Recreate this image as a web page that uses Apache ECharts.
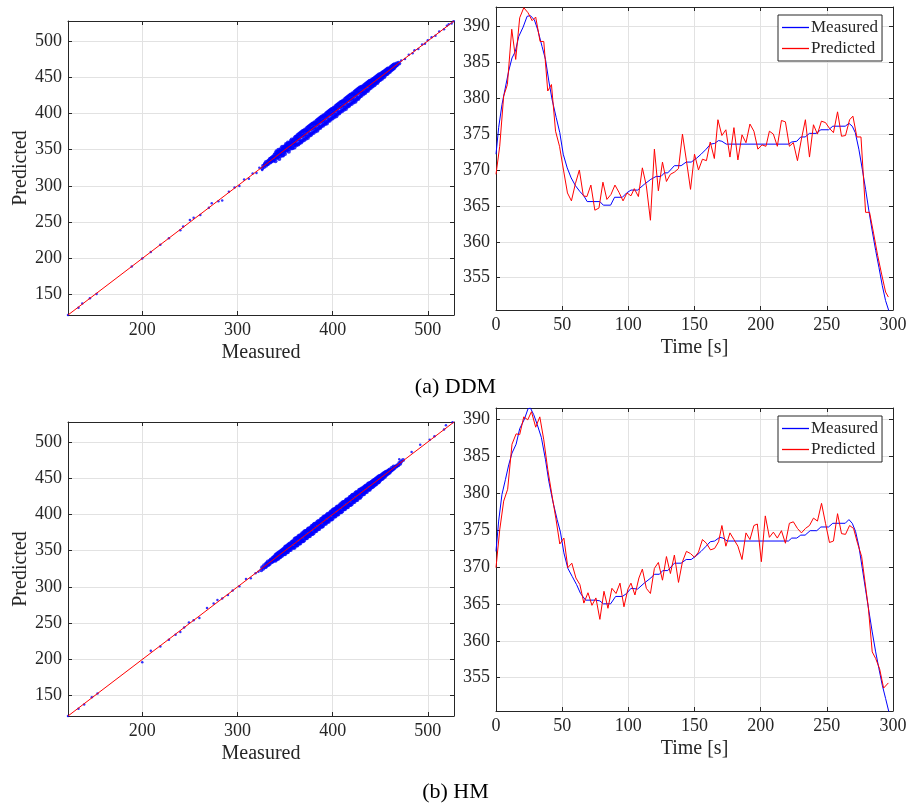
<!DOCTYPE html>
<html><head><meta charset="utf-8">
<script src="https://cdn.jsdelivr.net/npm/echarts@6/dist/echarts.min.js"></script>
<style>html,body{margin:0;padding:0;background:#fff}#c{width:911px;height:810px}</style>
</head><body><div id="c"></div>
<script>
// ---------- ranges & tick labels ----------
const scatterRange = [122, 527.5];
const scatterTicksX = [200, 300, 400, 500];
const scatterTicksY = [150, 200, 250, 300, 350, 400, 450, 500];
const timeRangeX = [0, 300];
const timeTicksX = [0, 50, 100, 150, 200, 250, 300];
const timeTicksY = [355, 360, 365, 370, 375, 380, 385, 390];
const ddmTimeRangeY = [350.5, 392.7];
const hmTimeRangeY = [350.5, 391.5];
const captions = ['(a) DDM', '(b) HM'];
const seriesNames = ['Measured', 'Predicted'];

// ---------- scatter: [measured, predicted] ----------
const ddmSparse = [
[122,122],[133,132],[137,138],[145,145],[152,151],[189,189],[200,200],[209,209],[219,219],[228,228],[240,239],[243,244],[250,253],[254,256],[261,260],[270,270],[273,276],[280,279],[284,280],[291,292],[297,298],[302,300],[307,309],[312,310],[316,317],[320,318],[323,325],[326,322],[328,330],
[472,473],[476,475],[480,481],[484,483],[486,487],[490,489],[494,495],[497,496],[500,501],[504,505],[508,507],[512,513],[517,516],[520,521],[522,523],[525,524],[527,527]
];
const ddmBand = [
[326,324],[327,328],[328,326],[329,331],[330,328],[330,333],[331,330],[332,334],[332,330],[333,335],[334,332],[334,337],[335,333],[335,338],[336,334],[336,339],[337,335],[337,340],[338,335],[338,341],[339,337],[339,343],
[340,334],[340,345],[340,340],[341,339],[341,348],[341,344],[342,339],[342,347],[342,343],[343,341],[343,350],[343,346],[344,337],[344,345],[344,349],[345,341],[345,349],[345,344],[346,345],[346,352],[346,349],[347,342],[347,349],[347,354],[348,342],[348,348],[348,352],[349,346],[349,354],[349,350],
[350,344],[350,355],[350,350],[351,349],[351,358],[351,354],[352,349],[352,357],[352,353],[353,351],[353,360],[353,356],[354,347],[354,355],[354,359],[355,351],[355,359],[355,354],[356,355],[356,362],[356,359],[357,352],[357,359],[357,364],[358,352],[358,358],[358,362],[359,356],[359,364],[359,360],
[360,353],[360,366],[360,359],[361,357],[361,368],[361,362],[362,356],[362,368],[362,363],[363,358],[363,370],[363,365],[364,357],[364,366],[364,371],[365,359],[365,372],[365,364],[366,361],[366,373],[366,368],[367,360],[367,369],[367,374],[368,362],[368,369],[368,375],[369,364],[369,376],[369,370],
[370,363],[370,376],[370,371],[371,366],[371,378],[371,373],[372,365],[372,377],[372,371],[373,368],[373,380],[373,375],[374,366],[374,376],[374,381],[375,369],[375,382],[375,374],[376,371],[376,383],[376,378],[377,370],[377,379],[377,384],[378,372],[378,379],[378,385],[379,374],[379,386],[379,380],
[380,373],[380,386],[380,381],[381,376],[381,388],[381,383],[382,375],[382,387],[382,381],[383,378],[383,390],[383,385],[384,376],[384,386],[384,391],[385,379],[385,392],[385,384],[386,381],[386,393],[386,388],[387,380],[387,389],[387,394],[388,382],[388,389],[388,395],[389,384],[389,396],[389,390],
[390,383],[390,396],[390,391],[391,386],[391,398],[391,393],[392,385],[392,397],[392,391],[393,388],[393,400],[393,395],[394,386],[394,396],[394,401],[395,389],[395,402],[395,394],[396,391],[396,403],[396,398],[397,390],[397,399],[397,404],[398,392],[398,399],[398,405],[399,394],[399,406],[399,400],
[400,393],[400,406],[400,401],[401,396],[401,408],[401,403],[402,395],[402,407],[402,401],[403,398],[403,410],[403,405],[404,396],[404,406],[404,411],[405,399],[405,412],[405,404],[406,401],[406,413],[406,408],[407,400],[407,409],[407,414],[408,402],[408,409],[408,415],[409,404],[409,416],[409,410],
[410,403],[410,416],[410,411],[411,406],[411,418],[411,413],[412,405],[412,417],[412,411],[413,408],[413,420],[413,415],[414,406],[414,416],[414,421],[415,409],[415,422],[415,414],[416,411],[416,423],[416,418],[417,410],[417,419],[417,424],[418,412],[418,419],[418,425],[419,414],[419,426],[419,420],
[420,413],[420,426],[420,421],[421,416],[421,428],[421,423],[422,415],[422,427],[422,421],[423,418],[423,430],[423,425],[424,416],[424,426],[424,431],[425,419],[425,432],[425,424],[426,421],[426,433],[426,428],[427,420],[427,429],[427,434],[428,422],[428,429],[428,435],[429,424],[429,436],[429,430],
[430,424],[430,436],[430,431],[431,427],[431,437],[431,433],[432,426],[432,437],[432,431],[433,429],[433,439],[433,435],[434,428],[434,436],[434,440],[435,430],[435,441],[435,434],[436,432],[436,442],[436,438],[437,431],[437,439],[437,443],[438,433],[438,439],[438,444],[439,435],[439,445],[439,440],
[440,435],[440,445],[440,441],[441,437],[441,446],[441,443],[442,437],[442,447],[442,441],[443,440],[443,448],[443,445],[444,439],[444,446],[444,449],[445,441],[445,450],[445,444],[446,443],[446,451],[446,448],[447,442],[447,449],[447,452],[448,444],[448,449],[448,453],[449,446],[449,454],[449,450],
[450,446],[450,454],[450,451],[451,448],[451,455],[451,453],[452,448],[452,456],[452,451],[453,451],[453,457],[453,455],[454,450],[454,456],[454,458],[455,452],[455,459],[455,455],[456,454],[456,460],[456,458],[457,454],[457,458],[457,461],[458,455],[458,459],[458,462],[459,457],[459,462],[459,460],
[460,457],[460,462],[461,459],[461,464],[462,460],[462,465],[463,461],[463,466],[464,462],[464,467],[465,463],[465,468],[466,465],[467,466],[467,469],[468,467],[469,470],[470,469]
];
const hmSparse = [
[122,122],[133,132],[139,138],[147,148],[153,153],[200,196],[209,212],[219,218],[228,227],[235,234],[240,238],[244,244],[249,251],[254,254],[260,257],[268,271],[275,277],[279,282],[284,284],[290,289],[295,295],[302,301],[309,311],[314,312],[319,319],[322,321],
[470,476],[483,486],[492,496],[502,503],[507,508],[517,517],[519,523],[526,527]
];
const hmBand = [
[325,323],[326,327],[327,325],[328,330],[329,327],[330,332],[330,328],[331,333],[332,330],[332,335],[333,331],[334,336],[334,332],[335,338],[336,334],[336,338],[337,335],[337,340],[338,336],[338,341],[339,337],[339,342],
[340,336],[340,344],[340,340],[341,338],[341,345],[341,343],[342,339],[342,346],[342,341],[343,339],[343,347],[343,344],[344,341],[344,348],[344,342],[345,341],[345,349],[345,347],[346,343],[346,350],[346,345],[347,343],[347,351],[347,348],[348,345],[348,352],[348,347],[349,345],[349,353],[349,351],
[350,345],[350,355],[350,350],[351,348],[351,356],[351,353],[352,348],[352,356],[352,351],[353,348],[353,358],[353,355],[354,351],[354,359],[354,352],[355,351],[355,360],[355,358],[356,351],[356,360],[356,355],[357,354],[357,362],[357,358],[358,354],[358,363],[358,355],[359,354],[359,363],[359,361],
[360,354],[360,366],[360,360],[361,357],[361,367],[361,363],[362,357],[362,367],[362,361],[363,357],[363,368],[363,365],[364,360],[364,370],[364,362],[365,360],[365,371],[365,368],[366,360],[366,370],[366,365],[367,363],[367,372],[367,368],[368,363],[368,374],[368,365],[369,363],[369,374],[369,371],
[370,364],[370,376],[370,370],[371,367],[371,377],[371,373],[372,367],[372,377],[372,371],[373,367],[373,378],[373,375],[374,370],[374,380],[374,372],[375,370],[375,381],[375,378],[376,370],[376,380],[376,375],[377,373],[377,382],[377,378],[378,373],[378,384],[378,375],[379,373],[379,384],[379,381],
[380,374],[380,386],[380,380],[381,377],[381,387],[381,383],[382,377],[382,387],[382,381],[383,377],[383,388],[383,385],[384,380],[384,390],[384,382],[385,380],[385,391],[385,388],[386,380],[386,390],[386,385],[387,383],[387,392],[387,388],[388,383],[388,394],[388,385],[389,383],[389,394],[389,391],
[390,384],[390,396],[390,390],[391,387],[391,397],[391,393],[392,387],[392,397],[392,391],[393,387],[393,398],[393,395],[394,390],[394,400],[394,392],[395,390],[395,401],[395,398],[396,390],[396,400],[396,395],[397,393],[397,402],[397,398],[398,393],[398,404],[398,395],[399,393],[399,404],[399,401],
[400,394],[400,406],[400,400],[401,397],[401,407],[401,403],[402,397],[402,407],[402,401],[403,397],[403,408],[403,405],[404,400],[404,410],[404,402],[405,400],[405,411],[405,408],[406,400],[406,410],[406,405],[407,403],[407,412],[407,408],[408,403],[408,414],[408,405],[409,403],[409,414],[409,411],
[410,404],[410,416],[410,410],[411,407],[411,417],[411,413],[412,407],[412,417],[412,411],[413,407],[413,418],[413,415],[414,410],[414,420],[414,412],[415,410],[415,421],[415,418],[416,410],[416,420],[416,415],[417,413],[417,422],[417,418],[418,413],[418,424],[418,415],[419,413],[419,424],[419,421],
[420,414],[420,426],[420,420],[421,417],[421,427],[421,423],[422,417],[422,427],[422,421],[423,417],[423,428],[423,425],[424,420],[424,430],[424,422],[425,420],[425,431],[425,428],[426,420],[426,430],[426,425],[427,423],[427,432],[427,428],[428,423],[428,434],[428,425],[429,423],[429,434],[429,431],
[430,425],[430,435],[430,430],[431,428],[431,436],[431,433],[432,428],[432,436],[432,431],[433,428],[433,438],[433,435],[434,431],[434,439],[434,432],[435,431],[435,440],[435,438],[436,431],[436,440],[436,435],[437,434],[437,442],[437,438],[438,434],[438,443],[438,435],[439,434],[439,443],[439,441],
[440,436],[440,444],[440,440],[441,438],[441,445],[441,443],[442,438],[442,446],[442,441],[443,439],[443,447],[443,444],[444,441],[444,448],[444,442],[445,441],[445,449],[445,447],[446,442],[446,450],[446,445],[447,444],[447,451],[447,448],[448,444],[448,452],[448,447],[449,445],[449,453],[449,451],
[450,447],[450,453],[450,450],[451,449],[451,454],[451,452],[452,449],[452,455],[453,450],[453,456],[454,452],[454,457],[455,452],[455,458],[456,454],[456,459],[457,455],[457,459],[458,456],[458,460],[459,457],[459,461],
[460,458],[460,462],[461,460],[462,461],[462,464],[463,462],[464,463],[464,466],[465,464],[466,466],[467,466],[468,468],[469,468],[470,471],[471,470],[472,473],[474,475]
];

// ---------- time series: [t, value] ----------
const ddmMeasured = [[0,372.2],[2,375.9],[4.5,379.1],[7,381.4],[9.6,383.8],[12.1,385.6],[14.6,386.5],[17.2,388.6],[20.5,389.9],[23.5,391.4],[26,391.5],[29,390.9],[31.6,389.5],[34.8,387.2],[37.4,385.4],[39.9,382.4],[42.4,379.8],[45.5,377.3],[48.2,375.2],[50.8,372.2],[53.8,370.3],[56.8,368.9],[60.1,367.8],[63.4,367.0],[66.4,366.4],[68.9,365.6],[74,365.6],[78.5,365.6],[81.1,365.1],[86.6,365.1],[89.6,366.2],[95.5,366.2],[98.7,366.8],[102,367.2],[107,367.2],[112,368.0],[117,368.7],[121,369.1],[124.7,369.1],[127.3,369.6],[129.8,369.6],[134.8,370.6],[139.9,370.6],[143.7,371.1],[147.5,371.1],[151.3,371.6],[155,372.2],[158.8,372.9],[162.1,373.6],[165.2,373.7],[168.2,374.1],[170.7,374.0],[174,373.6],[221,373.6],[223.5,373.9],[227.3,374.0],[230.3,374.6],[233.6,374.6],[236.9,375.1],[241.9,375.1],[245.5,375.6],[251.3,375.6],[254.5,376.1],[263.9,376.1],[266.7,376.5],[269.2,376.1],[271.5,375.2],[274.2,372.9],[276.8,370.1],[279.3,367.3],[281.8,364.3],[284.3,361.5],[286.9,358.8],[289.4,356.4],[291.9,353.9],[294.4,351.8],[297,350.3]];
const ddmPredicted = [[0,369.4],[2.8,373.3],[5.8,380.3],[8.6,381.9],[11.9,389.6],[14.9,385.4],[17.9,391.2],[21,392.6],[24.2,391.9],[27.3,390.8],[30,391.3],[33.3,387.9],[36.1,387.9],[39.1,381.0],[41.9,381.9],[45,375.4],[48,373.3],[51,370.0],[54,366.8],[57,365.7],[60,368.1],[63,370.0],[66,366.4],[68.7,366.3],[71.7,367.9],[74.7,364.4],[77.8,364.7],[80.8,368.3],[83.8,365.9],[86.9,366.6],[89.9,367.9],[92.9,366.9],[96,365.7],[99,366.8],[102,366.4],[104.5,367.4],[107.6,366.3],[110.6,370.3],[113.6,367.8],[116.7,363.0],[119.7,372.9],[122.7,367.1],[125.8,371.1],[128.8,368.4],[131.8,369.4],[134.8,369.7],[137.9,370.2],[140.9,375.0],[143.9,371.3],[147,367.3],[150,372.2],[153,370.0],[156,371.5],[159,371.3],[161.9,373.9],[165,371.6],[167.7,377.0],[170.7,374.8],[173.7,375.6],[176.8,371.8],[179.8,375.9],[182.8,371.4],[185.9,374.9],[188.9,373.8],[191.9,376.4],[194.9,375.4],[197.9,372.9],[201,373.5],[204,373.3],[206.6,375.4],[209.6,375.0],[212.6,373.3],[215.7,376.9],[218.7,376.7],[221.7,373.3],[224.7,373.8],[227.8,371.3],[230.8,374.3],[233.8,377.0],[236.9,371.8],[239.9,376.3],[242.9,375.0],[245.9,376.8],[249,376.6],[252,375.8],[255,375.2],[258.1,378.1],[261.1,374.7],[264.1,374.8],[267.2,377.0],[269.7,377.5],[272.7,374.6],[275.8,374.6],[279.3,364.1],[282.3,364.1],[285.4,361.1],[288.4,358.1],[291.4,355.5],[294.4,353.0],[296.5,352.3]];
const hmMeasured = [[0,372.1],[2,376.2],[4.5,379.8],[7.1,381.8],[9.6,383.8],[12.1,385.4],[15.2,386.6],[17.9,388.7],[21.5,390.0],[24.2,391.4],[26,391.5],[28.5,390.6],[31.1,389.3],[34.3,387.5],[37.4,384.5],[39.9,381.6],[42.9,378.9],[46.2,376.4],[48.7,374.7],[51.3,371.9],[54.3,369.8],[57.6,368.7],[60.9,367.6],[63.9,366.4],[67.7,365.5],[75.3,365.5],[78.5,365.4],[81.1,365.0],[86.6,365.0],[90.4,366.0],[95.5,366.0],[98.7,366.4],[102,367.1],[107,367.0],[112,367.8],[117,368.5],[119.7,369.0],[123.5,369.0],[126,369.5],[129.8,369.5],[134.8,370.5],[139.9,370.5],[143.7,371.0],[147.5,371.0],[151.3,371.5],[155,372.1],[158.8,372.8],[161.9,373.4],[165.2,373.5],[169,374.0],[171.5,373.9],[174.7,373.5],[221,373.5],[223.5,373.9],[227.3,373.9],[230.3,374.3],[233.6,374.3],[237.4,374.9],[242.4,374.9],[245.5,375.4],[251.3,375.4],[254.5,375.9],[263.9,375.9],[266.7,376.4],[269.2,375.9],[271.7,374.8],[274.2,372.8],[276.8,369.8],[279.3,366.9],[281.8,364.0],[284.3,361.2],[286.9,358.5],[289.4,356.2],[291.9,354.0],[294.4,352.2],[297,350.3]];
const hmPredicted = [[0,369.9],[2.8,375.0],[5.8,378.9],[8.8,380.5],[12.1,386.6],[15.2,388.0],[17.9,387.9],[21,390.3],[24,389.9],[26.8,391.0],[30,388.9],[33.1,390.3],[36.1,387.2],[39.1,383.2],[42.2,379.8],[45.2,376.6],[48.2,373.1],[51.3,373.9],[54.3,369.9],[57.3,370.5],[60.4,368.5],[63.4,367.6],[66.4,365.1],[69.5,366.5],[72.5,364.8],[75.5,365.8],[78.5,362.9],[81.6,366.7],[84.6,364.4],[87.6,367.1],[90.7,366.4],[93.7,367.8],[96.7,364.6],[99.7,367.0],[102,367.8],[105,366.2],[108,368.5],[110.6,369.7],[113.6,367.1],[116.7,366.4],[119.7,369.8],[122.7,370.6],[125.8,368.2],[128.8,371.4],[131.8,369.1],[134.8,371.6],[137.9,367.9],[140.9,370.7],[143.9,372.1],[147,371.8],[150,371.3],[153,372.0],[156,373.7],[159,373.2],[162.1,372.3],[165.2,372.5],[168.2,373.4],[170.7,375.6],[173.7,372.8],[176.8,374.6],[179.8,373.7],[182.8,372.8],[185.9,371.0],[188.9,374.6],[191.9,373.7],[194.9,375.6],[197.5,375.8],[200.5,370.7],[203.5,376.9],[206.6,374.0],[209.6,374.7],[212.6,373.9],[215.7,374.9],[218.7,373.2],[221.7,375.9],[224.7,376.1],[227.8,375.2],[230.8,374.6],[233.8,375.2],[236.9,375.6],[239.9,376.6],[242.9,376.2],[246,378.6],[249,375.9],[252,373.3],[255,373.5],[258.1,377.2],[261.1,374.5],[264.1,374.4],[267.2,375.6],[270.2,375.2],[273.2,373.2],[276.3,371.4],[278.8,368.0],[281.3,364.6],[284.3,358.5],[286.9,357.6],[289.9,356.2],[292.9,353.6],[296.5,354.3]];

// ---------- styling ----------
const FONT = 'Liberation Serif';
const AX = '#262626';
const GRIDC = '#e2e2e2';
const BLUE = '#0000ff';
const RED = '#ff0000';

const grids = [
  {left: 68, top: 21, width: 386, height: 294},
  {left: 496, top: 7, width: 397, height: 303},
  {left: 68, top: 422, width: 386, height: 294},
  {left: 496, top: 408, width: 397, height: 303}
];

function mkX(gi, range, ticks, name) {
  return [{
    type: 'value', gridIndex: gi, position: 'bottom', min: range[0], max: range[1],
    axisLine: {show: true, onZero: false, lineStyle: {color: AX, width: 1}},
    axisTick: {show: true, inside: true, length: 4, customValues: ticks, lineStyle: {color: AX}},
    axisLabel: {customValues: ticks, color: AX, fontFamily: FONT, fontSize: 18, margin: 6},
    splitLine: {show: true, lineStyle: {color: GRIDC, width: 1}},
    name: name, nameLocation: 'middle', nameGap: 28,
    nameTextStyle: {fontFamily: FONT, fontSize: 20, color: AX}
  }, {
    type: 'value', gridIndex: gi, position: 'top', min: range[0], max: range[1],
    axisLine: {show: true, onZero: false, lineStyle: {color: AX, width: 1}},
    axisTick: {show: true, inside: true, length: 4, customValues: ticks, lineStyle: {color: AX}},
    axisLabel: {show: false}, splitLine: {show: false}
  }];
}
function mkY(gi, range, ticks, name) {
  return [{
    type: 'value', gridIndex: gi, position: 'left', min: range[0], max: range[1],
    axisLine: {show: true, onZero: false, lineStyle: {color: AX, width: 1}},
    axisTick: {show: true, inside: true, length: 4, customValues: ticks, lineStyle: {color: AX}},
    axisLabel: {customValues: ticks, color: AX, fontFamily: FONT, fontSize: 18, margin: 6},
    splitLine: {show: true, lineStyle: {color: GRIDC, width: 1}},
    name: name, nameLocation: 'middle', nameGap: 36,
    nameTextStyle: {fontFamily: FONT, fontSize: 20, color: AX}
  }, {
    type: 'value', gridIndex: gi, position: 'right', min: range[0], max: range[1],
    axisLine: {show: true, onZero: false, lineStyle: {color: AX, width: 1}},
    axisTick: {show: true, inside: true, length: 4, customValues: ticks, lineStyle: {color: AX}},
    axisLabel: {show: false}, splitLine: {show: false}
  }];
}

const xAxis = [].concat(
  mkX(0, scatterRange, scatterTicksX, 'Measured'),
  mkX(1, timeRangeX, timeTicksX, 'Time [s]'),
  mkX(2, scatterRange, scatterTicksX, 'Measured'),
  mkX(3, timeRangeX, timeTicksX, 'Time [s]')
);
const yAxis = [].concat(
  mkY(0, scatterRange, scatterTicksY, 'Predicted'),
  mkY(1, ddmTimeRangeY, timeTicksY, ''),
  mkY(2, scatterRange, scatterTicksY, 'Predicted'),
  mkY(3, hmTimeRangeY, timeTicksY, '')
);

const diag = [[scatterRange[0], scatterRange[0]], [scatterRange[1], scatterRange[1]]];

function scatterSeries(ax, data, size) {
  return {type: 'scatter', xAxisIndex: ax, yAxisIndex: ax, data: data, symbolSize: size,
    itemStyle: {color: BLUE}, silent: true, animation: false};
}
function lineSeries(ax, name, data, color) {
  return {type: 'line', name: name, xAxisIndex: ax, yAxisIndex: ax, data: data,
    symbol: 'none', showSymbol: false, clip: true,
    lineStyle: {color: color, width: 1}, itemStyle: {color: color}, silent: true, animation: false};
}

const series = [
  scatterSeries(0, ddmBand, 4),
  scatterSeries(0, ddmSparse, 2.5),
  lineSeries(0, 'fit', diag, RED),
  lineSeries(2, seriesNames[0], ddmMeasured, BLUE),
  lineSeries(2, seriesNames[1], ddmPredicted, RED),
  scatterSeries(4, hmBand, 4),
  scatterSeries(4, hmSparse, 2.5),
  lineSeries(4, 'fit', diag, RED),
  lineSeries(6, seriesNames[0], hmMeasured, BLUE),
  lineSeries(6, seriesNames[1], hmPredicted, RED)
];

function mkLegend(top) {
  return {
    data: seriesNames.map(function (n) { return {name: n, icon: 'rect'}; }),
    orient: 'vertical', left: 778, top: top,
    backgroundColor: '#fff', borderColor: AX, borderWidth: 1, borderRadius: 0,
    padding: [4, 4, 4, 4], itemGap: 4, itemWidth: 27, itemHeight: 1.3,
    textStyle: {fontFamily: FONT, fontSize: 17, color: AX, padding: [0, 0, 0, -3], lineHeight: 16},
    selectedMode: false
  };
}

const chart = echarts.init(document.getElementById('c'), null, {renderer: 'canvas'});
chart.setOption({
  backgroundColor: '#fff',
  animation: false,
  title: [
    {text: captions[0], left: 'center', top: 371, textStyle: {fontFamily: FONT, fontSize: 22, fontWeight: 'normal', color: '#000'}},
    {text: captions[1], left: 'center', top: 776, textStyle: {fontFamily: FONT, fontSize: 22, fontWeight: 'normal', color: '#000'}}
  ],
  legend: [mkLegend(15), mkLegend(416)],
  grid: grids,
  xAxis: xAxis,
  yAxis: yAxis,
  series: series
});
</script>
</body></html>
